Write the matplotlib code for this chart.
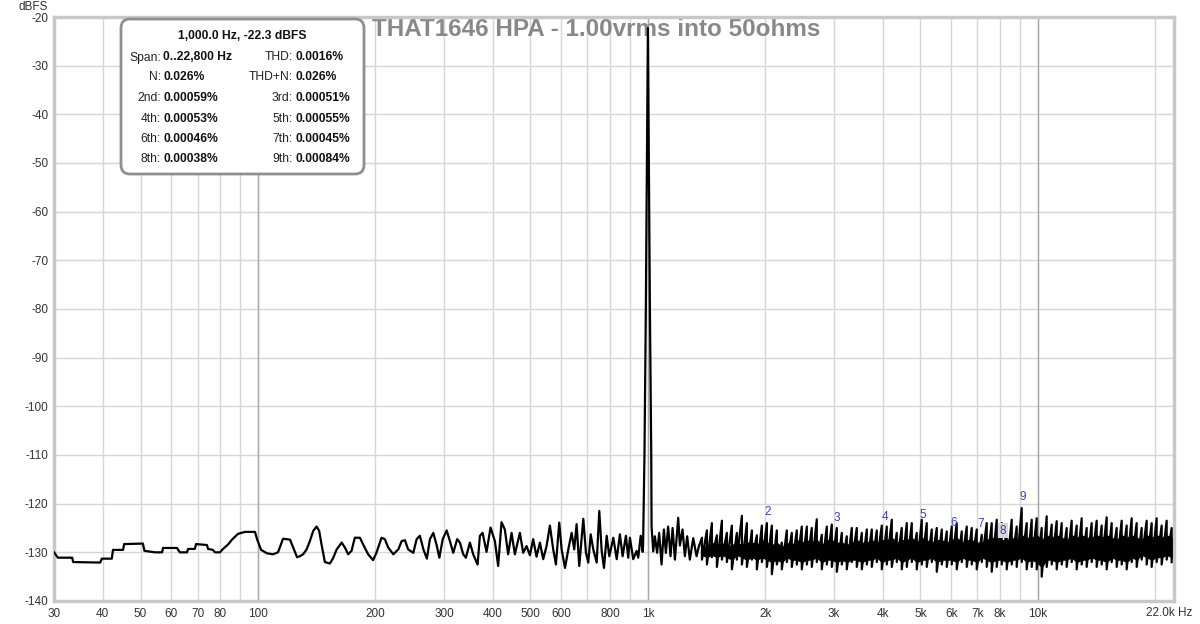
import numpy as np
import matplotlib
matplotlib.use("Agg")
import matplotlib.pyplot as plt
from matplotlib.patches import FancyBboxPatch
from matplotlib.ticker import NullFormatter
from matplotlib.transforms import IdentityTransform

plt.rcParams['font.family'] = ['Liberation Sans', 'DejaVu Sans']
plt.rcParams['axes.unicode_minus'] = False

W, H = 1200, 624
# plot frame of the reference, in pixels
AX_L, AX_R, AX_T, AX_B = 54, 1174, 17, 601

title = "THAT1646 HPA - 1.00vrms into 50ohms"
fund_hz = 1000.0
fund_dbfs = -22.3

# ---- spectrum ----
# 30 Hz .. just below the fundamental
lf_freq = [30, 30.7, 33.4, 33.6, 39.4, 39.8, 42.2, 42.5, 45.1, 45.4,
           50.7, 51.2, 54.5, 56.8, 57.1, 62.0, 63.1, 65.8, 66.2, 68.9,
           69.4, 74.0, 74.5, 76.7, 77.6, 79.9, 81.4, 83.8, 85.8, 88.9,
           92.6, 98.3, 99.5, 101.9, 105.5, 109.3, 112.6, 116.0, 120.9, 123.8,
           126.0,
           128.1, 130.6, 133.3, 135.9, 138.6, 141.4, 143.6, 145.6, 148.5, 153.0,
           156.1, 159.2, 164.0, 167.1, 170.4, 173.8, 177.2, 182.6, 186.2, 191.7,
           197.4, 201.3, 207.5, 211.6, 215.8, 222.4, 229.1, 233.6, 238.2, 242.8,
           250.3, 255.3, 260.2, 265.7, 271.2, 276.1, 281.7, 287.4, 291.9, 297.8,
           304.8, 310.7, 316.9, 324.3, 329.6, 336.1, 341.4, 349.6, 356.5, 365.8,
           370.9, 376.8, 385.7, 395.0, 405.2, 413.1, 421.4, 429.7, 438.2, 447.1,
           455.9, 469.6, 478.9, 488.5, 498.2, 508.0, 518.2, 528.5, 539.0, 549.8,
           560.7, 571.8, 581.0, 592.5, 600.9, 613.0, 625.0, 637.5, 647.3, 656.5,
           666.8, 682.9, 693.8, 703.3, 713.4, 724.4, 739.1, 750.5, 761.2, 771.7,
           784.1, 796.3, 815.4, 831.9, 847.6, 861.3, 878.3, 890.4, 899.2, 917.1,
           935.7, 944.7, 958.5, 969.9]
lf_db = [-130.0, -131.1, -131.1, -132.0, -132.1, -131.3, -131.3, -129.5, -129.5, -128.3,
         -128.2, -129.7, -130.0, -130.0, -129.1, -129.1, -130.0, -130.0, -129.3, -129.3,
         -128.3, -128.5, -129.3, -129.5, -130.0, -130.0, -129.3, -128.4, -127.4, -126.2,
         -125.8, -125.8, -127.3, -129.5, -130.2, -130.4, -130.0, -127.2, -127.4, -129.5,
         -131.0,
         -130.8, -130.4, -129.4, -127.7, -125.6, -124.7, -125.6, -128.4, -132.0, -132.3,
         -131.1, -129.4, -128.0, -129.0, -130.4, -129.7, -127.0, -127.0, -128.4, -130.4,
         -131.6, -130.1, -127.0, -127.3, -129.0, -130.4, -129.4, -127.7, -127.5, -129.4,
         -130.1, -127.3, -126.6, -129.4, -131.3, -127.3, -126.0, -128.6, -131.1, -127.3,
         -125.5, -127.7, -130.1, -127.3, -128.0, -130.4, -131.1, -128.0, -130.4, -132.5,
         -126.6, -126.0, -129.9, -124.9, -127.7, -132.8, -123.8, -125.3, -130.4, -126.0,
         -130.4, -126.0, -130.1, -128.7, -130.6, -127.3, -130.9, -128.0, -131.4, -128.7,
         -124.5, -129.4, -132.5, -123.9, -129.4, -133.2, -129.4, -126.0, -129.4, -124.2,
         -132.8, -123.1, -130.1, -132.1, -126.3, -129.4, -132.1, -121.5, -129.7, -133.2,
         -126.6, -130.8, -127.0, -131.4, -126.3, -130.8, -126.6, -131.1, -127.0, -131.4,
         -129.7, -131.1, -126.6, -129.9]

# the fundamental
peak_freq = [972, 980, 988, 994, fund_hz, 1006, 1012, 1020]
peak_db = [-128.5, -110, -80, -50, fund_dbfs, -50, -80, -110]

# just above the fundamental
hf1_freq = [1022, 1032, 1042, 1056, 1069, 1084, 1099, 1112, 1127, 1143,
            1157, 1173, 1196, 1208, 1227, 1244, 1261, 1281, 1307, 1333, 1351]
hf1_db = [-124.7, -129.8, -126.7, -130.1, -126.0, -132.5, -125.3, -130.1, -124.7, -130.8,
          -125.0, -131.5, -122.9, -128.6, -125.3, -130.8, -126.7, -131.5, -127.1, -130.8, -128.8]

# dense noise floor: spike highs / lows and the solid core, per column
hf_freq = [1376, 1417, 1459, 1503, 1548, 1594, 1642, 1691, 1742, 1794,
           1848, 1903, 1960, 2019, 2079, 2141, 2205, 2271, 2339, 2409,
           2481, 2556, 2632, 2711, 2792, 2876, 2962, 3051, 3142, 3236,
           3333, 3433, 3536, 3642, 3751, 3863, 3979, 4098, 4221, 4347,
           4477, 4612, 4750, 4892, 5038, 5189, 5345, 5505, 5670, 5840,
           6014, 6194, 6380, 6571, 6768, 6970, 7179, 7394, 7615, 7843,
           8078, 8320, 8569, 8826, 9090, 9362, 9643, 9931, 10229, 10535,
           10851, 11176, 11510, 11855, 12210, 12576, 12952, 13340, 13740, 14152,
           14575, 15012, 15462, 15925, 16402, 16893, 17399, 17920, 18457, 19010,
           19579, 20166, 20770, 21392, 22033]
hf_top = [-127.0, -125.5, -124.0, -126.5, -123.5, -126.0, -124.5, -126.0, -122.5, -124.0,
          -125.5, -126.5, -124.5, -124.0, -124.5, -125.5, -128.0, -125.5, -126.0, -125.5,
          -124.7, -124.7, -125.0, -123.2, -126.4, -124.7, -124.3, -125.0, -126.0, -126.7,
          -125.0, -125.0, -126.0, -125.3, -125.3, -125.5, -124.5, -124.7, -123.3, -126.0,
          -125.0, -124.0, -124.0, -126.0, -123.3, -124.0, -125.3, -125.0, -125.3, -125.7,
          -124.7, -124.0, -125.7, -124.7, -125.0, -125.3, -126.4, -124.0, -124.0, -123.3,
          -124.0, -125.3, -123.3, -124.7, -120.9, -124.0, -123.3, -123.0, -125.0, -122.6,
          -124.3, -123.6, -124.0, -125.0, -123.5, -124.5, -123.0, -125.0, -124.0, -123.5,
          -124.5, -122.8, -124.0, -125.0, -123.5, -124.5, -123.0, -124.0, -125.0, -123.5,
          -124.0, -123.0, -124.5, -123.5, -125.0]
hf_bot = [-131.5, -132.5, -131.0, -133.0, -131.5, -132.0, -133.5, -131.5, -132.5, -133.0,
          -131.5, -133.5, -132.0, -133.0, -134.5, -132.5, -133.5, -132.0, -133.0, -132.5,
          -133.5, -132.5, -133.0, -132.0, -133.5, -132.5, -133.0, -134.0, -132.5, -133.5,
          -132.0, -133.0, -133.5, -132.5, -133.0, -132.0, -133.5, -132.5, -133.0, -132.0,
          -133.5, -133.0, -132.0, -133.5, -132.5, -133.0, -132.0, -134.0, -132.5, -133.0,
          -132.5, -133.5, -132.0, -133.0, -132.5, -133.5, -132.0, -133.0, -134.0, -133.0,
          -132.5, -133.5, -132.5, -133.0, -132.0, -133.5, -133.0, -133.5, -135.0, -133.0,
          -132.5, -133.5, -132.5, -133.0, -132.0, -133.5, -132.5, -133.0, -132.0, -133.0,
          -132.5, -133.5, -132.0, -133.0, -132.5, -133.5, -132.0, -133.0, -131.5, -132.5,
          -133.0, -132.0, -132.5, -131.5, -132.0]
hf_core_hi = [-128.5, -129.0, -128.0, -128.5, -128.0, -129.0, -128.5, -128.0, -128.5, -128.0,
              -128.0, -128.5, -127.5, -128.0, -128.5, -128.0, -129.0, -128.0, -128.5, -127.5,
              -128.0, -127.5, -128.0, -127.5, -128.5, -127.5, -127.5, -128.0, -128.0, -128.5,
              -128.0, -127.5, -128.0, -128.0, -127.5, -128.0, -127.5, -127.5, -127.0, -128.0,
              -127.5, -127.5, -127.0, -128.0, -127.0, -127.5, -128.0, -127.5, -127.5, -128.0,
              -127.5, -127.0, -128.0, -127.5, -127.5, -128.0, -128.0, -127.5, -127.0, -127.0,
              -127.5, -127.5, -127.0, -127.5, -126.5, -127.0, -127.0, -126.5, -127.5, -126.5,
              -127.0, -126.5, -127.0, -127.5, -126.5, -127.0, -126.5, -127.0, -127.0, -126.5,
              -127.0, -126.5, -127.0, -127.5, -126.5, -127.0, -126.5, -127.0, -127.5, -126.5,
              -127.0, -126.5, -127.0, -126.5, -127.0]
hf_core_lo = [-130.5, -131.0, -130.5, -131.0, -130.5, -131.0, -131.5, -130.5, -131.0, -131.5,
              -131.0, -131.5, -131.0, -131.5, -132.0, -131.5, -132.0, -131.0, -131.5, -131.5,
              -132.0, -131.5, -131.5, -131.0, -132.0, -131.5, -131.5, -132.0, -131.5, -132.0,
              -131.5, -131.5, -132.0, -131.5, -131.5, -131.0, -132.0, -131.5, -131.5, -131.0,
              -132.0, -131.5, -131.0, -132.0, -131.5, -131.5, -131.0, -132.0, -131.5, -131.5,
              -131.5, -132.0, -131.0, -131.5, -131.5, -132.0, -131.0, -131.5, -132.0, -131.5,
              -131.5, -132.0, -131.5, -131.5, -131.0, -132.0, -131.5, -132.0, -133.0, -131.5,
              -131.5, -132.0, -131.5, -131.5, -131.0, -132.0, -131.5, -131.5, -131.0, -131.5,
              -131.5, -132.0, -131.0, -131.5, -131.5, -132.0, -131.0, -131.5, -130.5, -131.0,
              -131.5, -131.0, -131.0, -130.5, -131.0]

# harmonics (percent of fundamental), from the info box
harm_n = [2, 3, 4, 5, 6, 7, 8, 9]
harm_pct = [0.00059, 0.00051, 0.00053, 0.00055, 0.00046, 0.00045, 0.00038, 0.00084]

box_title = "1,000.0 Hz, -22.3 dBFS"
box_left = [("Span:", "0..22,800 Hz"), ("N:", "0.026%"), ("2nd:", "0.00059%"),
            ("4th:", "0.00053%"), ("6th:", "0.00046%"), ("8th:", "0.00038%")]
box_right = [("THD:", "0.0016%"), ("THD+N:", "0.026%"), ("3rd:", "0.00051%"),
             ("5th:", "0.00055%"), ("7th:", "0.00045%"), ("9th:", "0.00084%")]

x_ticks = [30, 40, 50, 60, 70, 80, 100, 200, 300, 400, 500, 600, 800,
           1000, 2000, 3000, 4000, 5000, 6000, 7000, 8000, 10000]
x_labels = ["30", "40", "50", "60", "70", "80", "100", "200", "300", "400", "500", "600", "800",
            "1k", "2k", "3k", "4k", "5k", "6k", "7k", "8k", "10k"]
x_minor = [90, 700, 900, 9000, 20000]
decades = [100, 1000, 10000]

# ---- figure ----
fig = plt.figure(figsize=(W / 100, H / 100), dpi=100)
ax = fig.add_axes([AX_L / W, 1 - AX_B / H, (AX_R - AX_L) / W, (AX_B - AX_T) / H])
ax.set_xscale('log')
ax.set_xlim(30, 22340)
ax.set_ylim(-140, -20)

ax.set_xticks(x_ticks, x_labels)
ax.set_xticks(x_minor, minor=True)
ax.xaxis.set_minor_formatter(NullFormatter())
ax.set_yticks(np.arange(-140, -19, 10))
ax.tick_params(which='both', length=0, labelsize=8.5, labelcolor='#333333')
ax.tick_params(axis='x', pad=5)
ax.tick_params(axis='y', pad=4)
ax.set_axisbelow(True)
ax.grid(True, which='both', axis='x', color='#d6d6d6', lw=1)
ax.grid(True, which='major', axis='y', color='#d6d6d6', lw=1)
for d in decades:
    ax.axvline(d, color='#a8a8a8', lw=1, zorder=1)
for sp in ax.spines.values():
    sp.set_color('#c8c8c8')
    sp.set_linewidth(2.5)


def pax(x, y):
    return (x - AX_L) / (AX_R - AX_L), (AX_B - y) / (AX_B - AX_T)


ax.text(*pax(372, 29), title, transform=ax.transAxes, ha='left', va='center',
        fontsize=17.5, fontweight='bold', color='#888888', zorder=2)

# trace
zig_f = np.repeat(hf_freq, 2)
zig_db = np.column_stack([hf_top, hf_bot]).ravel()
trace_f = np.concatenate([lf_freq, peak_freq, hf1_freq, zig_f])
trace_db = np.concatenate([lf_db, peak_db, hf1_db, zig_db])
ax.plot(trace_f, trace_db, color='black', lw=1.6, zorder=3)
ax.fill_between(hf_freq, hf_core_lo, hf_core_hi, color='black', lw=0.8, zorder=3)

# harmonic markers
harm_db = fund_dbfs + 20 * np.log10(np.array(harm_pct) / 100)
for n, lev in zip(harm_n, harm_db):
    kw = {}
    if n == 8:
        kw['bbox'] = dict(boxstyle='square,pad=0.12', fc='#d9d9d9', ec='none')
    ax.annotate(str(n), xy=(n * fund_hz, lev), xytext=(2, 18), textcoords='offset points',
                ha='center', va='center', fontsize=8.5, color='#3b3bcc', zorder=4, **kw)

# axis captions
fig.text(48 / W, 1 - 6.5 / H, "dBFS", ha='right', va='center', fontsize=8.5, color='#333333')
fig.text(1146 / W, 1 - 612.5 / H, "22.0k Hz", ha='left', va='center', fontsize=8.5, color='#333333')

# info box
box = FancyBboxPatch((121, H - 174), 243, 155, boxstyle="round,pad=0,rounding_size=9",
                     transform=IdentityTransform(), fc='white', ec='#8f8f8f', lw=2, zorder=5)
fig.add_artist(box)
fig.text(242 / W, 1 - 36 / H, box_title, ha='center', va='center', fontsize=8.7,
         fontweight='bold', color='#111111', zorder=6)
rows_y = [57.5, 77.5, 98, 118.5, 139, 159.5]
for yy, (lab, val), (lab2, val2) in zip(rows_y, box_left, box_right):
    fy = 1 - yy / H
    fig.text(161 / W, fy, lab, ha='right', va='center', fontsize=8.7, color='#222222', zorder=6)
    fig.text(163 / W, fy, val, ha='left', va='center', fontsize=8.7, fontweight='bold',
             color='#111111', zorder=6)
    fig.text(293 / W, fy, lab2, ha='right', va='center', fontsize=8.7, color='#222222', zorder=6)
    fig.text(295.5 / W, fy, val2, ha='left', va='center', fontsize=8.7, fontweight='bold',
             color='#111111', zorder=6)

fig.savefig("out.png", dpi=100)
